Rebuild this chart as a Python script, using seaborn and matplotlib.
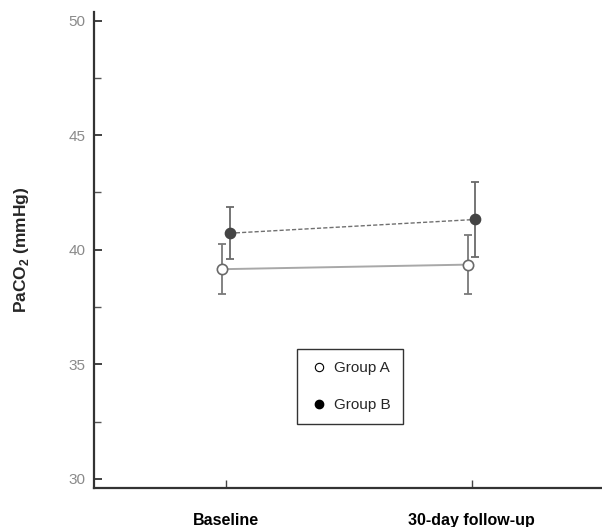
import numpy as np
import pandas as pd
import matplotlib
matplotlib.use("Agg")
import matplotlib.pyplot as plt
from matplotlib.lines import Line2D
import seaborn as sns

# data (mean +/- error)
timepoints = ['Baseline', '30-day follow-up']
groups = ['Group A', 'Group B']
mean_a = [39.15, 39.35]
err_a = [1.1, 1.3]
mean_b = [40.72, 41.32]
err_b = [1.13, 1.65]

sns.set_style("ticks")
plt.rcParams['font.family'] = ['Liberation Sans', 'DejaVu Sans']

fig = plt.figure(figsize=(6.02, 5.27), dpi=100)
ax = fig.add_axes([0.156, 0.074, 0.844, 0.903])

x = np.arange(len(timepoints))
shift = 0.015

df = pd.DataFrame({
    'x': np.concatenate([x - shift, x + shift]),
    'PaCO2': mean_a + mean_b,
    'group': [groups[0]] * 2 + [groups[1]] * 2,
})

# error bars
ax.errorbar(x - shift, mean_a, yerr=err_a, fmt='none', ecolor='#7a7a7a',
            elinewidth=1.3, capsize=3, capthick=1.3, zorder=2)
ax.errorbar(x + shift, mean_b, yerr=err_b, fmt='none', ecolor='#6a6a6a',
            elinewidth=1.3, capsize=3, capthick=1.3, zorder=2)

# connecting lines
sns.lineplot(data=df[df.group == groups[0]], x='x', y='PaCO2', ax=ax,
             color='#a8a8a8', linewidth=1.4, legend=False, zorder=3)
sns.lineplot(data=df[df.group == groups[1]], x='x', y='PaCO2', ax=ax,
             color='#707070', linewidth=1.0, linestyle=(0, (3, 1.5)),
             legend=False, zorder=3)

# markers
sns.scatterplot(data=df[df.group == groups[0]], x='x', y='PaCO2', ax=ax,
                s=55, color='white', edgecolor='#6a6a6a', linewidth=1.2,
                legend=False, zorder=4)
sns.scatterplot(data=df[df.group == groups[1]], x='x', y='PaCO2', ax=ax,
                s=55, color='#444444', edgecolor='#444444', linewidth=1,
                legend=False, zorder=4)

ax.set_xlim(-0.537, 1.53)
ax.set_ylim(29.6, 50.37)
ax.set_xticks(x)
ax.set_xticklabels(timepoints, fontsize=11.5, fontweight='bold')
ax.set_yticks([30, 35, 40, 45, 50])
ax.set_yticks(np.arange(32.5, 50, 5), minor=True)
ax.tick_params(axis='y', which='major', direction='in', length=6, width=1.3,
               colors='#333333', labelcolor='#8a8a8a', labelsize=11, pad=6)
ax.tick_params(axis='y', which='minor', direction='in', length=5, width=1,
               colors='#555555')
ax.tick_params(axis='x', direction='in', length=6, width=1,
               colors='#444444', labelcolor='black', pad=18)
ax.set_xlabel('')
ax.set_ylabel('PaCO$_\\mathregular{2}$ (mmHg)', fontsize=12.5, fontweight='bold',
              labelpad=27)

sns.despine(ax=ax)
for s in ['left', 'bottom']:
    ax.spines[s].set_color('#333333')
    ax.spines[s].set_linewidth(1.6)

handles = [
    Line2D([], [], marker='o', linestyle='none', markersize=6,
           markerfacecolor='white', markeredgecolor='black', markeredgewidth=0.8),
    Line2D([], [], marker='o', linestyle='none', markersize=6,
           markerfacecolor='black', markeredgecolor='black'),
]
leg = ax.legend(handles, groups, loc='lower left', bbox_to_anchor=(0.40, 0.134),
                fontsize=11, frameon=True, fancybox=False, labelspacing=1.5,
                handletextpad=0.4, handlelength=1.2, borderpad=0.8,
                borderaxespad=0)
leg.get_frame().set_edgecolor('black')
leg.get_frame().set_linewidth(1.0)

fig.savefig('out.png', dpi=100)
